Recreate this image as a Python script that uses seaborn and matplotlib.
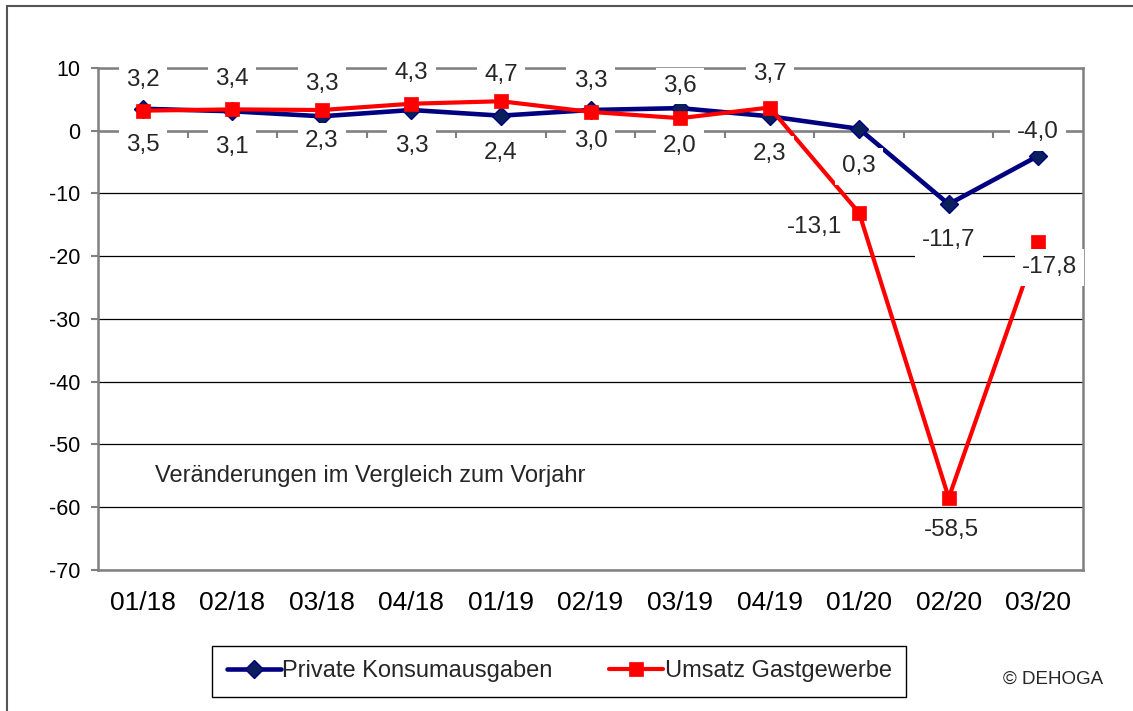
import numpy as np
import pandas as pd
import seaborn as sns
import matplotlib.pyplot as plt
from matplotlib.patches import Rectangle

# data
quarters = ['01/18', '02/18', '03/18', '04/18', '01/19', '02/19',
            '03/19', '04/19', '01/20', '02/20', '03/20']
konsum = [3.5, 3.1, 2.3, 3.3, 2.4, 3.3, 3.6, 2.3, 0.3, -11.7, -4.0]
gastgewerbe = [3.2, 3.4, 3.3, 4.3, 4.7, 3.0, 2.0, 3.7, -13.1, -58.5, -17.8]
y_ticks = [10, 0, -10, -20, -30, -40, -50, -60, -70]
series_names = ['Private Konsumausgaben', 'Umsatz Gastgewerbe']

# label placement (offset in points from each point)
konsum_offsets = [(0, -26), (0, -26), (0, -18), (0, -26), (0, -27), (0, 21),
                  (0, 16), (0, -27), (0, -27), (0, -26), (0, 17)]
gast_offsets = [(0, 22), (0, 22), (0, 19), (0, 22), (0, 19), (0, -21),
                (0, -20), (0, 24), (-32, -10), (2, -23), (8, -18)]

konsum_df = pd.DataFrame({'Quartal': quarters, 'Wert': konsum})
gast_df = pd.DataFrame({'Quartal': quarters, 'Wert': gastgewerbe})

sns.set_style('white')
plt.rcParams['font.family'] = ['Liberation Sans', 'DejaVu Sans']
plt.rcParams['axes.unicode_minus'] = False

GRAY = '#808080'
fig = plt.figure(figsize=(11.33, 7.11), dpi=100)
ax = fig.add_axes([0.0865, 0.1983, 0.8694, 0.7061])

sns.lineplot(data=konsum_df, x='Quartal', y='Wert', ax=ax, sort=False,
             color='#000080', lw=3.3, marker='D', markersize=9.5,
             markerfacecolor='#0a1f5c', markeredgecolor='#000080',
             markeredgewidth=1, label=series_names[0], zorder=2)
sns.lineplot(data=gast_df, x='Quartal', y='Wert', ax=ax, sort=False,
             color='#ff0000', lw=3, marker='s', markersize=10,
             markerfacecolor='#ff0000', markeredgecolor='#ff0000',
             markeredgewidth=0.5, label=series_names[1], zorder=2.1)

ax.set_xlim(-0.5, len(quarters) - 0.5)
ax.set_ylim(min(y_ticks), max(y_ticks))
ax.set_yticks(y_ticks)
ax.set_xlabel('')
ax.set_ylabel('')

# grid and frame
ax.set_axisbelow(True)
ax.yaxis.grid(True, color='black', lw=0.9)
ax.axhline(0, color=GRAY, lw=1.8, zorder=1)
for s in ax.spines.values():
    s.set_color(GRAY)
    s.set_linewidth(1.8)

ax.tick_params(axis='y', left=True, length=5, width=1.5, color=GRAY,
               labelsize=15.5, pad=8, labelcolor='black')
ax.tick_params(axis='x', bottom=False, length=0, labelsize=19, pad=15,
               labelcolor='black')

# category tick marks hanging below the zero line
sec = ax.secondary_xaxis(0, transform=ax.transData)
sec.set_xticks(np.arange(len(quarters) - 1) + 0.5)
sec.tick_params(axis='x', bottom=True, top=False, direction='out', length=5,
                width=1.5, color=GRAY, labelbottom=False, labeltop=False)
for s in sec.spines.values():
    s.set_visible(False)

# data labels
box = dict(boxstyle='square,pad=0.3', fc='white', ec='none')
for i, (v, off) in enumerate(zip(konsum, konsum_offsets)):
    ax.annotate(f'{v:.1f}'.replace('.', ','), (i, v), xytext=off,
                textcoords='offset points', ha='center', va='center',
                fontsize=17.5, bbox=box, zorder=3, annotation_clip=False)
for i, (v, off) in enumerate(zip(gastgewerbe, gast_offsets)):
    ax.annotate(f'{v:.1f}'.replace('.', ','), (i, v), xytext=off,
                textcoords='offset points', ha='center', va='center',
                fontsize=17.5, bbox=box, zorder=3, annotation_clip=False)

ax.text(0.058, 0.187, 'Veränderungen im Vergleich zum Vorjahr',
        transform=ax.transAxes, ha='left', va='center', fontsize=17)

# legend below the plot
handles, labels = ax.get_legend_handles_labels()
ax.get_legend().remove()
leg = fig.legend(handles, labels, loc='center', bbox_to_anchor=(0.4934, 0.0556),
                 ncol=2, fontsize=17, frameon=True, fancybox=False,
                 edgecolor='black', framealpha=1, handlelength=2.3,
                 handletextpad=0.05, columnspacing=2.4, borderpad=0.6)
leg.get_frame().set_linewidth(1.0)

fig.text(0.8853, 0.045, '© DEHOGA', ha='left', va='center', fontsize=13.5)

# outer frame of the slide
fig.add_artist(Rectangle((7 / 1133, -0.1), 1.2, 1 - 6 / 711 + 0.1,
                         transform=fig.transFigure, fill=False,
                         ec='#555555', lw=1.5))

fig.savefig('out.png', dpi=100)
